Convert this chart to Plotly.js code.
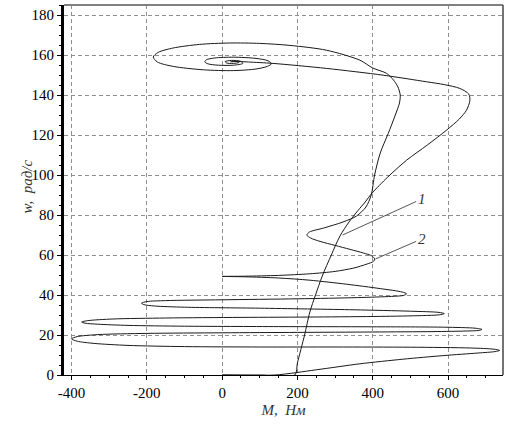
<!DOCTYPE html>
<html>
<head>
<meta charset="utf-8">
<script src="https://cdn.plot.ly/plotly-3.0.1.min.js"></script>
<style>html,body{margin:0;padding:0;background:#fff}</style>
</head>
<body>
<div id="chart" style="width:519px;height:426px"></div>
<script>
// Curve 1 (smooth start): torque M (Нм) vs speed w (рад/с)
var curve1M = [0, 100, 193, 200, 219, 233, 248, 266, 290, 313,
               337, 361, 380, 397, 440, 490, 545, 596, 630, 649,
               658, 655, 631, 590, 543, 428, 277, 135, 70, 35, 25];
var curve1W = [0, 0, 0, 6, 20, 31.5, 40, 49.5, 60, 69.5,
               76.5, 82.3, 86.5, 90.7, 99, 107.4, 115, 122.4, 128, 132.4,
               137.2, 140.5, 143.3, 145.2, 146.6, 149.9, 153.3, 155.8, 156.5, 156.8, 156.6];

// Curve 2 (oscillating start)
var curve2M = [
  0, 140, 250, 366, 480, 587, 680, 725, 737, 722, 660,
  500, 300, 100, -100, -250, -340, -385, -400,
  -385, -330, -200, 0, 200, 400, 560, 650, 682, 690,
  672, 590, 400, 150, -100, -250, -330, -364, -373,
  -356, -290, -150, 50, 250, 420, 530, 577, 590,
  576, 500, 350, 100, -100, -180, -208, -214,
  -200, -150, 0, 200, 360, 450, 482, 490,
  478, 420, 330, 233, 150, 60, 0,
  60, 150, 233, 300, 350, 385, 402, 405,
  398, 375, 340, 300, 260, 235, 225,
  232, 270, 321, 357, 382, 396, 405, 420, 441, 460, 471, 473, 467, 455, 437,
  400, 366, 277, 180, 100, 20, -60, -130, -170, -183,
  -172, -130, -50, 30, 90, 120, 131,
  122, 90, 30, -20, -42, -46, -38, -10, 30, 55,
  50, 25, 8, 12, 30, 45, 40, 28, 22
];
var curve2W = [
  0, 0, 2.6, 5.6, 7.9, 9.7, 11, 11.7, 12.3, 12.9, 13.5,
  13.9, 14, 14, 14.2, 14.8, 15.8, 16.9, 18.1,
  19.2, 20.2, 20.8, 21.1, 21.3, 21.5, 21.7, 22, 22.3, 22.8,
  23.4, 23.9, 24.1, 24.2, 24.4, 24.8, 25.4, 25.9, 26.5,
  27.2, 28, 28.5, 28.8, 29, 29.3, 29.7, 30.1, 30.7,
  31.3, 31.9, 32.6, 33.4, 33.9, 34.5, 35.2, 35.9,
  36.7, 37.2, 37.6, 38.1, 38.7, 39.3, 39.8, 40.6,
  41.5, 43.2, 45.4, 47.4, 48.5, 49.1, 49.3,
  49.4, 49.8, 50.6, 51.8, 53.5, 55.5, 56.8, 58,
  59.5, 61, 62.8, 64.8, 66.8, 68.5, 70,
  71.5, 73.5, 76.5, 79.5, 84, 90, 100, 111, 120.7, 130, 136, 140, 144, 147.5, 150.8,
  153.5, 157.4, 162.4, 164.8, 165.8, 166, 165.3, 163.5, 161.3, 159,
  156.5, 154.3, 152.6, 152.2, 153, 154.3, 155.6,
  157.1, 158.3, 158.9, 158.5, 157.6, 156.6, 155.6, 154.9, 154.9, 155.8,
  156.8, 157.3, 156.7, 156, 155.8, 156.3, 156.8, 156.9, 156.6
];

// Curve labels and leader targets
var labelText = ["1", "2"];
var labelM = [530, 530];
var labelW = [88, 68];
var pointM = [320, 407];
var pointW = [70, 58];

var xTicks = [-400, -200, 0, 200, 400, 600];
var yTicks = [0, 20, 40, 60, 80, 100, 120, 140, 160, 180];

var serif = 'Liberation Serif, Times New Roman, DejaVu Serif, serif';
var lineStyle = {color: '#1a1a1a', width: 1, shape: 'spline', smoothing: 0.8};
var traces = [
  {x: curve1M, y: curve1W, mode: 'lines', line: lineStyle, name: '1', hoverinfo: 'skip'},
  {x: curve2M, y: curve2W, mode: 'lines', line: lineStyle, name: '2', hoverinfo: 'skip'}
];

var tickFont = {family: serif, size: 15, color: '#000'};
var annotations = labelText.map(function (t, i) {
  return {
    x: pointM[i], y: pointW[i], xref: 'x', yref: 'y',
    ax: labelM[i], ay: labelW[i], axref: 'x', ayref: 'y',
    text: '<i>' + t + '</i>', showarrow: true, arrowhead: 0, arrowwidth: 1,
    arrowcolor: '#555', standoff: 0, startstandoff: 0,
    font: {family: serif, size: 15, color: '#333'}
  };
});
// y-axis title
annotations.push({
  xref: 'paper', yref: 'paper', x: -0.084, y: 0.51, xanchor: 'center', yanchor: 'middle',
  textangle: -90, showarrow: false, text: '<i>w,  рад/с</i>',
  font: {family: serif, size: 15, color: '#333'}
});

var layout = {
  width: 519, height: 426,
  margin: {l: 64, r: 16, t: 5, b: 51},
  paper_bgcolor: '#fff', plot_bgcolor: '#fff',
  showlegend: false,
  xaxis: {
    range: [-420, 746], tickvals: xTicks, ticktext: xTicks.map(String),
    ticks: 'outside', ticklen: 4, tickwidth: 1, tickcolor: '#000',
    showline: true, linecolor: '#000', linewidth: 1,
    showgrid: true, gridcolor: '#8f8f8f', gridwidth: 1, griddash: '4px,3px',
    zeroline: false, tickfont: tickFont,
    minor: {dtick: 50, tick0: 0, ticks: 'outside', ticklen: 2, tickcolor: '#000', showgrid: false},
    title: {text: '<i>M,  Нм</i>', standoff: 4, font: {family: serif, size: 15, color: '#333'}}
  },
  yaxis: {
    range: [0, 185], tickvals: yTicks, ticktext: yTicks.map(String),
    ticks: 'outside', ticklen: 4, tickwidth: 1, tickcolor: '#000',
    showline: true, linecolor: '#000', linewidth: 3,
    showgrid: true, gridcolor: '#8f8f8f', gridwidth: 1, griddash: '4px,3px',
    zeroline: false, tickfont: tickFont,
    minor: {dtick: 5, tick0: 0, ticks: 'outside', ticklen: 2, tickcolor: '#000', showgrid: false}
  },
  shapes: [
    {type: 'line', xref: 'paper', yref: 'paper', x0: 0, x1: 1, y0: 1, y1: 1, line: {color: '#808080', width: 2}},
    {type: 'line', xref: 'paper', yref: 'paper', x0: 1, x1: 1, y0: 0, y1: 1, line: {color: '#444', width: 1.5}}
  ],
  annotations: annotations
};

Plotly.newPlot('chart', traces, layout, {staticPlot: true, displayModeBar: false});
</script>
</body>
</html>
